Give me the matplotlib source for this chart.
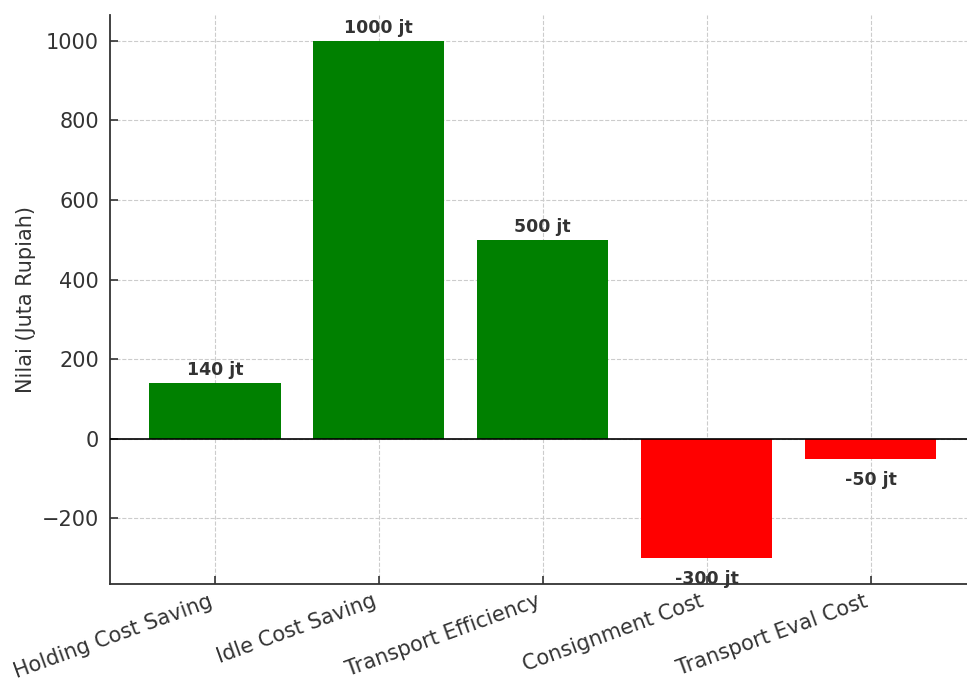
import matplotlib
matplotlib.use("Agg")
import matplotlib.pyplot as plt

# data
categories = ["Holding Cost Saving", "Idle Cost Saving", "Transport Efficiency",
              "Consignment Cost", "Transport Eval Cost"]
values = [140, 1000, 500, -300, -50]
labels = ["140 jt", "1000 jt", "500 jt", "-300 jt", "-50 jt"]

plt.rcParams['text.color'] = '#333333'
plt.rcParams['axes.labelcolor'] = '#333333'
plt.rcParams['xtick.color'] = '#333333'
plt.rcParams['ytick.color'] = '#333333'

fig = plt.figure(figsize=(9.67, 6.8), dpi=100)
ax = fig.add_axes([0.1138, 0.141, 0.895, 0.837])

colors = ['green' if v >= 0 else 'red' for v in values]
bars = ax.bar(categories, values, color=colors, width=0.8, zorder=2)

ax.axhline(0, color='black', linewidth=1.2, zorder=3)

# value labels
for b, v, lab in zip(bars, values, labels):
    x = b.get_x() + b.get_width() / 2
    if v >= 0:
        ax.text(x, v + 10, lab, ha='center', va='bottom', fontsize=12.5, fontweight='bold')
    else:
        ax.text(x, v - 30, lab, ha='center', va='top', fontsize=12.5, fontweight='bold')

ax.set_ylabel("Nilai (Juta Rupiah)", fontsize=15)
ax.tick_params(axis='both', direction='in', length=6, width=1.2)
ax.tick_params(axis='y', labelsize=15, pad=8)
ax.tick_params(axis='x', labelsize=15, pad=5)
plt.setp(ax.get_xticklabels(), rotation=20, ha='right')

ax.grid(True, linestyle='--', color='#cccccc', linewidth=0.8, zorder=0)
ax.spines['top'].set_visible(False)
ax.spines['right'].set_visible(False)
ax.spines['left'].set_color('#333333')
ax.spines['bottom'].set_color('#333333')
ax.spines['left'].set_linewidth(1.3)
ax.spines['bottom'].set_linewidth(1.3)

fig.savefig("out.png", dpi=100)
